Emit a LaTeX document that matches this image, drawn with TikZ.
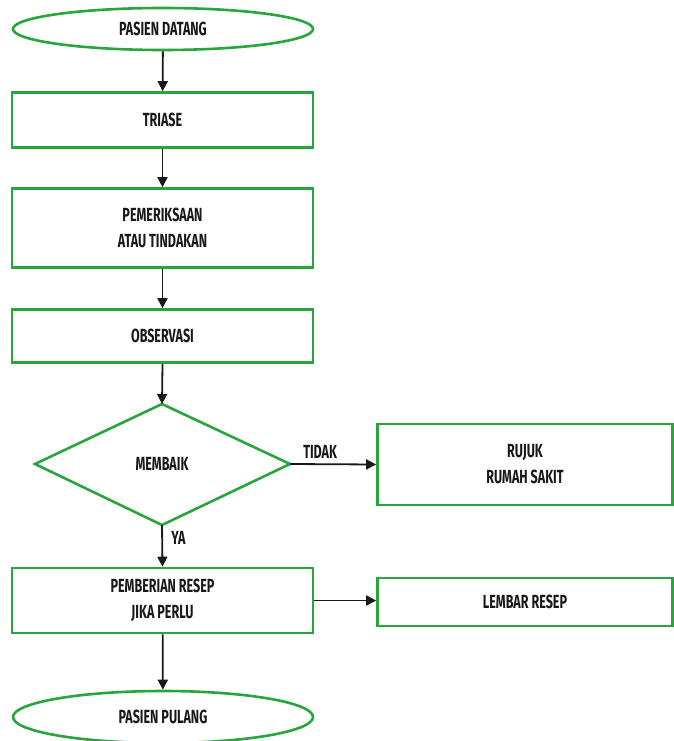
\documentclass[tikz,border=0pt]{standalone}
\usepackage{fontspec}
\setmainfont[FakeStretch=0.66]{Fira Sans}
\usetikzlibrary{shapes.geometric,arrows.meta}
\definecolor{flowgreen}{RGB}{40,165,60}
\begin{document}
\begin{tikzpicture}[x=1pt,y=-1pt,
  every node/.style={font=\bfseries\fontsize{19}{26}\selectfont, text=black!90, align=center},
  stepbox/.style={draw=flowgreen, line width=2.6pt, fill=white, minimum width=#1, inner sep=0pt},
  endpoint/.style={ellipse, draw=flowgreen, line width=2.6pt, fill=white, minimum width=300, inner sep=0pt},
  decision/.style={draw=flowgreen, line width=2.6pt},
  flow/.style={line width=1.8pt, black!90, -{Triangle[length=10pt,width=10pt]}}]
\useasboundingbox (0,0) rectangle (673,741);
% main column
\node[endpoint, minimum height=42] (start) at (163,29) {PASIEN DATANG};
\node[stepbox=301, minimum height=55] (triase) at (162.5,120) {TRIASE};
\node[stepbox=301, minimum height=79] (periksa) at (162.5,228) {PEMERIKSAAN\\ATAU TINDAKAN};
\node[stepbox=301, minimum height=53] (obs) at (162.5,336) {OBSERVASI};
% decision diamond
\coordinate (dtop) at (162,404);
\coordinate (dright) at (290,464);
\coordinate (dbot) at (162,525);
\coordinate (dleft) at (35,464);
\draw[decision] (dtop) -- (dright) -- (dbot) -- (dleft) -- cycle;
\node (membaik) at (162,464) {MEMBAIK};
\node[stepbox=295, minimum height=81] (rujuk) at (525,464.5) {RUJUK\\RUMAH SAKIT};
\node[stepbox=301, minimum height=65] (resep) at (162.5,600.5) {PEMBERIAN RESEP\\JIKA PERLU};
\node[stepbox=295, minimum height=48] (lembar) at (525,602) {LEMBAR RESEP};
\node[endpoint, minimum height=52] (pulang) at (163,717) {PASIEN PULANG};
% connectors
\draw[flow] (start) -- (triase);
\draw[flow] (triase) -- (periksa);
\draw[flow] (periksa) -- (obs);
\draw[flow] (obs.south) -- (dtop);
\draw[flow] (dright) -- node[above=1pt, pos=0.35] (tidak) {TIDAK} (rujuk.west);
\draw[flow] (dbot) -- node[right=5pt, pos=0.3] (ya) {YA} (resep.north);
\draw[flow] (resep.east) -- (resep.east -| lembar.west);
\draw[flow] (resep) -- (pulang);
\end{tikzpicture}
\end{document}
